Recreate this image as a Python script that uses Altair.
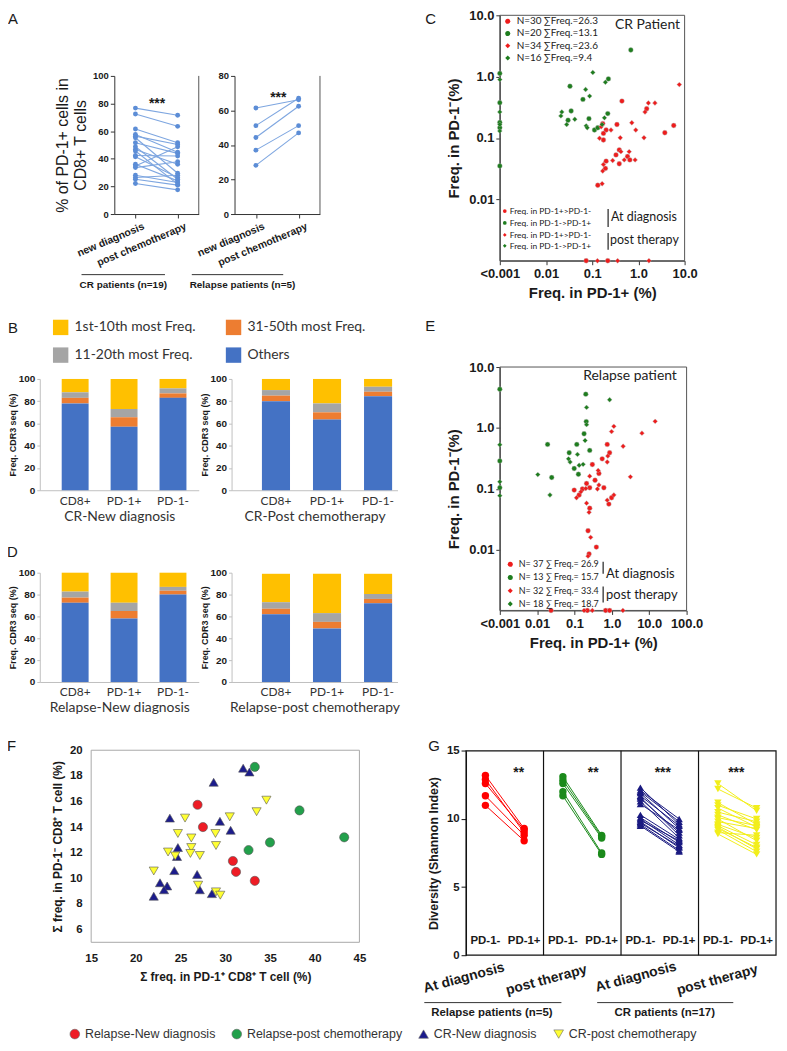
import altair as alt
import pandas as pd

# ======================= DATA =======================
# Panel A : % of PD-1+ cells in CD8+ T cells (paired samples)
a_conditions = ["new diagnosis", "post chemotherapy"]
a_cr_new = [76.7, 72.4, 61.6, 57.6, 56.4, 55.2, 51.6, 48.7, 46.8, 45.6, 42.4, 41.5, 36.0, 34.8, 33.6, 28.1, 26.4, 25.2, 22.1]
a_cr_post = [71.5, 63.5, 51.6, 44.8, 50.4, 29.5, 43.9, 25.2, 36.0, 21.6, 42.0, 26.4, 24.0, 48.7, 37.9, 22.8, 28.1, 20.9, 17.5]
a_rel_new = [61.4, 51.2, 44.3, 37.0, 28.2]
a_rel_post = [66.2, 67.1, 62.4, 51.2, 47.0]

# Panels B / D : stacked CDR3 frequency bars
bar_cells = ["CD8+", "PD-1+", "PD-1-"]
bar_categories = ["1st-10th most Freq.", "11-20th most Freq.", "31-50th most Freq.", "Others"]
bar_stack_rank = [3, 2, 1, 0]
bar_colors = ["#FFC000", "#A5A5A5", "#ED7D31", "#4472C4"]

cr_new_top10 = [12.0, 27.0, 8.5]
cr_new_11_20 = [5.0, 7.5, 4.5]
cr_new_31_50 = [5.0, 8.5, 4.0]
cr_new_others = [78.0, 57.0, 83.0]

cr_post_top10 = [10.0, 22.0, 7.0]
cr_post_11_20 = [5.0, 8.0, 4.5]
cr_post_31_50 = [5.0, 6.5, 4.0]
cr_post_others = [80.0, 63.5, 84.5]

rel_new_top10 = [17.3, 27.5, 13.0]
rel_new_11_20 = [5.5, 7.5, 3.5]
rel_new_31_50 = [4.7, 7.0, 3.5]
rel_new_others = [72.5, 58.0, 80.0]

rel_post_top10 = [26.0, 36.0, 18.5]
rel_post_11_20 = [6.0, 8.0, 4.5]
rel_post_31_50 = [5.0, 6.0, 4.0]
rel_post_others = [62.0, 49.0, 72.0]

# Panel C : CR patient clone frequencies (PD-1+ vs PD-1-)
c_labels = ["N=30 \u2211Freq.=26.3", "N=20 \u2211Freq.=13.1", "N=34 \u2211Freq.=23.6", "N=16 \u2211Freq.=9.4"]
c_red_diag_x = [0.44, 1.51, 0.343, 0.169, 0.20, 0.175, 0.175, 3.73, 5.81, 0.385, 0.327, 0.581, 0.385, 0.20, 0.193, 0.652, 0.132, 0.074, 0.217]
c_red_diag_y = [0.40, 0.30, 0.166, 0.172, 0.135, 0.119, 0.093, 0.122, 0.16, 0.064, 0.053, 0.05, 0.038, 0.042, 0.032, 0.044, 0.017, 0.001, 0.001]
c_green_diag_x = [0.001, 0.001, 0.001, 0.001, 0.001, 0.033, 0.063, 0.224, 0.685, 0.035, 0.030, 0.085, 0.112, 0.132, 0.217]
c_green_diag_y = [1.13, 0.376, 0.179, 0.147, 0.035, 0.698, 0.426, 0.92, 2.72, 0.276, 0.195, 0.207, 0.135, 0.147, 0.25]
c_red_post_x = [7.69, 1.64, 2.28, 1.39, 0.72, 0.877, 0.156, 0.255, 0.144, 0.405, 1.32, 0.418, 0.631, 0.493, 0.277, 0.175, 0.169, 0.848, 0.164, 0.13, 0.355, 1.69]
c_red_post_y = [0.743, 0.372, 0.372, 0.266, 0.177, 0.135, 0.152, 0.135, 0.099, 0.101, 0.101, 0.06, 0.06, 0.044, 0.043, 0.037, 0.029, 0.044, 0.018, 0.001, 0.001, 0.001]
c_green_post_x = [0.001, 0.001, 0.001, 0.001, 0.103, 0.072, 0.088, 0.193, 0.022, 0.021, 0.028, 0.042, 0.074, 0.078, 0.184, 0.164]
c_green_post_y = [0.895, 0.266, 0.166, 0.13, 1.17, 0.617, 0.482, 0.81, 0.266, 0.229, 0.166, 0.202, 0.158, 0.147, 0.213, 0.166]

# Panel E : Relapse patient clone frequencies
e_labels = ["N= 37  \u2211 Freq.= 26.9", "N= 13  \u2211 Freq.= 15.7", "N= 32  \u2211 Freq.= 33.4", "N= 18  \u2211 Freq.= 18.7"]
e_red_diag_x = [0.75, 0.87, 0.55, 0.30, 0.45, 0.354, 0.21, 0.61, 0.255, 0.163, 0.133, 0.098, 0.98, 0.83, 0.255, 0.23, 0.384, 0.245, 0.0235, 0.22, 0.68, 0.87]
e_red_diag_y = [0.535, 0.39, 0.31, 0.25, 0.178, 0.138, 0.122, 0.104, 0.104, 0.099, 0.079, 0.095, 0.071, 0.056, 0.048, 0.0204, 0.011, 0.0085, 0.001, 0.001, 0.001, 0.001]
e_green_diag_x = [0.001, 0.001, 0.001, 0.2, 0.019, 0.0245, 0.072, 0.115, 0.098, 0.127, 0.18, 0.206, 0.255]
e_green_diag_y = [4.32, 0.286, 0.104, 3.58, 0.535, 0.153, 0.39, 0.535, 0.215, 0.173, 0.8, 1.27, 0.427]
e_red_post_x = [14.4, 6.38, 1.13, 0.98, 2.0, 0.78, 0.75, 0.43, 0.255, 3.13, 0.45, 0.41, 0.2, 0.148, 0.113, 1.13, 0.75, 0.21, 0.245, 0.27, 0.23, 0.18, 0.30, 1.97]
e_red_post_y = [1.28, 0.82, 1.06, 0.87, 0.50, 0.345, 0.275, 0.2, 0.161, 0.157, 0.115, 0.099, 0.101, 0.089, 0.071, 0.079, 0.065, 0.058, 0.041, 0.0159, 0.0078, 0.001, 0.001, 0.001]
e_green_post_x = [0.001, 0.001, 0.001, 0.87, 0.21, 0.0104, 0.022, 0.076, 0.069, 0.12, 0.133, 0.17, 0.192, 0.21]
e_green_post_y = [0.528, 0.13, 0.077, 2.9, 2.17, 0.171, 0.079, 0.275, 0.31, 0.367, 0.243, 0.252, 0.62, 1.13]

# Panel F : sum of frequencies
f_groups = ["Relapse-New diagnosis", "Relapse-post chemotherapy", "CR-New diagnosis", "CR-post chemotherapy"]
f_rel_new_x = [26.9, 27.5, 30.85, 31.2, 33.3]
f_rel_new_y = [15.74, 14.0, 11.35, 10.5, 9.8]
f_rel_post_x = [33.3, 38.3, 43.3, 35.0, 32.6]
f_rel_post_y = [18.7, 15.3, 13.2, 12.8, 12.2]
f_cr_new_x = [32.0, 32.7, 28.7, 23.8, 29.4, 30.6, 24.7, 24.6, 24.3, 26.85, 22.7, 23.5, 23.15, 22.0, 27.15, 28.5]
f_cr_new_y = [18.6, 18.3, 17.5, 14.7, 14.45, 13.75, 12.4, 11.7, 10.6, 10.3, 9.65, 9.4, 9.1, 8.6, 9.1, 8.8]
f_cr_post_x = [25.5, 30.5, 34.6, 33.5, 24.7, 26.2, 28.9, 26.2, 23.6, 26.1, 24.4, 27.15, 28.96, 22.0, 26.96, 28.96, 29.44]
f_cr_post_y = [14.7, 14.8, 16.1, 15.2, 13.5, 13.15, 13.5, 12.4, 12.05, 11.94, 11.74, 11.78, 12.56, 10.57, 9.46, 8.94, 8.68]

# Panel G : diversity (Shannon index)
g_status = ["PD-1-", "PD-1+"]
g_rel_new_neg = [13.2, 12.9, 12.6, 11.7, 11.0]
g_rel_new_pos = [9.3, 9.0, 9.2, 8.8, 8.4]
g_rel_post_neg = [13.1, 12.85, 12.6, 12.0, 11.7]
g_rel_post_pos = [8.8, 8.7, 8.6, 7.5, 7.4]
g_cr_new_neg = [12.3, 12.1, 12.0, 11.9, 11.7, 11.6, 11.5, 11.3, 11.1, 10.3, 10.1, 10.0, 9.9, 9.8, 9.7, 9.6, 9.5]
g_cr_new_pos = [9.6, 10.0, 9.8, 9.3, 9.5, 8.8, 9.0, 8.6, 9.2, 8.5, 8.3, 8.1, 8.4, 7.9, 8.0, 7.7, 7.6]
g_cr_post_neg = [12.6, 12.2, 11.2, 11.0, 10.8, 10.5, 10.3, 10.1, 10.0, 9.8, 9.6, 9.5, 9.4, 9.3, 9.2, 9.0, 8.9]
g_cr_post_pos = [10.6, 10.8, 9.6, 10.0, 9.4, 9.8, 9.2, 9.5, 8.4, 9.3, 8.6, 8.1, 7.8, 7.9, 7.6, 8.8, 7.4]

# ======================= LAYOUT HELPERS =======================
OX, OY = 8, 8
W, H = 776, 1036
ARIAL = "Liberation Sans"
LATO = "Lato"
RED, GREEN = "#EE1C1C", "#1E7D1E"
ONE = pd.DataFrame({"k": [0]})


def gx(v):
    return v - OX


def gy(v):
    return v - OY


def loff(xp):
    return -(xp - OX)


def boff(yp):
    return -(H - (yp - OY))


def txt(text, x, y, size=12, weight="normal", font=ARIAL, align="left", color="#1a1a1a", angle=0):
    return alt.Chart(ONE).mark_text(
        align=align, baseline="middle", fontSize=size, font=font, fontWeight=weight, color=color, angle=angle
    ).encode(x=alt.value(gx(x)), y=alt.value(gy(y)), text=alt.value(text))


def hrule(x1, x2, y, color="#333", w=1.0):
    return alt.Chart(ONE).mark_rule(color=color, strokeWidth=w).encode(
        x=alt.value(gx(x1)), x2=alt.value(gx(x2)), y=alt.value(gy(y)))


def vrule(x, y1, y2, color="#333", w=1.0):
    return alt.Chart(ONE).mark_rule(color=color, strokeWidth=w).encode(
        x=alt.value(gx(x)), y=alt.value(gy(y1)), y2=alt.value(gy(y2)))


def box(x1, y1, x2, y2, color="#444", w=1.0):
    return alt.Chart(ONE).mark_rect(fillOpacity=0, stroke=color, strokeWidth=w).encode(
        x=alt.value(gx(x1)), x2=alt.value(gx(x2)), y=alt.value(gy(y1)), y2=alt.value(gy(y2)))


def sym(x, y, shape, color, size=14):
    return alt.Chart(ONE).mark_point(shape=shape, filled=True, color=color, size=size, opacity=1).encode(
        x=alt.value(gx(x)), y=alt.value(gy(y)))


def ax(orient, offset, **kw):
    base = dict(orient=orient, offset=offset, grid=False, labelFont=ARIAL, labelFontWeight="bold",
                labelColor="#1a1a1a", labelFontSize=10, tickColor="#333", domainColor="#333", tickSize=4,
                titleFont=ARIAL, titleFontWeight="bold", titleColor="#1a1a1a", labelFlush=False,
                labelOverlap=False)
    base.update(kw)
    return alt.Axis(**base)


LOGLAB = ("datum.value < 0.002 ? '<0.001' : datum.value < 0.05 ? '0.01' : "
          "datum.value < 0.5 ? '0.1' : format(datum.value, '.1f')")

layers = []

# ======================= PANEL A =======================
APT, ALINE = "#5C8DD6", "#7EA6E0"


def paired(new_vals, post_vals, x0, x1, ymax, yvals, title):
    n = len(new_vals)
    df = pd.DataFrame({"pid": list(range(n)) * 2,
                       "cond": [a_conditions[0]] * n + [a_conditions[1]] * n,
                       "val": list(new_vals) + list(post_vals)})
    x = alt.X("cond:N", sort=a_conditions,
              scale=alt.Scale(type="point", range=[gx(x0), gx(x1)], padding=0.5),
              axis=ax("bottom", boff(212), title=None, labelAngle=-23, labelAlign="right",
                      labelBaseline="top", labelFontSize=10.5, labelPadding=3, labelOffset=6))
    yax = ax("left", loff(x0), values=yvals, labelFontSize=9.5, title=title, titleFontWeight="normal",
             titleFontSize=16, titleLineHeight=18, titlePadding=4) if title else \
        ax("left", loff(x0), values=yvals, labelFontSize=9.5, title=None)
    y = alt.Y("val:Q", scale=alt.Scale(domain=[0, ymax], range=[gy(212), gy(73)], nice=False), axis=yax)
    lines = alt.Chart(df).mark_line(color=ALINE, strokeWidth=1.1).encode(x=x, y=y, detail="pid:N")
    pts = alt.Chart(df).mark_point(filled=True, size=24, opacity=1, color=APT).encode(x=x, y=y)
    return alt.layer(lines, pts)


layers.append(paired(a_cr_new, a_cr_post, 115, 200, 100, [0, 20, 40, 60, 80, 100],
                     ["% of PD-1+ cells in", "CD8+ T cells"]))
layers.append(paired(a_rel_new, a_rel_post, 236, 322, 80, [0, 20, 40, 60, 80], None))
layers += [
    txt("A", 8, 16, 15),
    vrule(200, 73, 212, "#555"), vrule(322, 73, 212, "#555"),
    txt("***", 158, 101, 14, "bold", align="center"),
    txt("***", 280, 95, 14, "bold", align="center"),
    hrule(82, 166, 273, "#333"), hrule(193, 285, 273, "#333"),
    txt("CR patients (n=19)", 124, 283, 10, "bold", align="center"),
    txt("Relapse patients  (n=5)", 244, 283, 10, "bold", align="center"),
]

# ======================= PANELS B / D =======================


def bar_panel(top10, g11, o31, others, x0, x1, y0, y1, align, title, legend):
    rows = []
    for cat, rank, vals in zip(bar_categories, bar_stack_rank, [top10, g11, o31, others]):
        for cell, v in zip(bar_cells, vals):
            rows.append({"cell": cell, "cat": cat, "rank": rank, "val": v})
    df = pd.DataFrame(rows)
    x = alt.X("cell:N", sort=bar_cells,
              scale=alt.Scale(type="band", range=[gx(x0), gx(x1)], paddingInner=0.45, paddingOuter=0.35,
                              align=align),
              axis=ax("bottom", boff(y1), title=title, labelAngle=0, labelFont=LATO, labelFontWeight="normal",
                      labelFontSize=12, labelColor="#333", ticks=False, labelPadding=5, domainColor="#BFBFBF",
                      titleFont=LATO, titleFontWeight="normal", titleFontSize=14, titleColor="#333",
                      titlePadding=3))
    y = alt.Y("val:Q", stack="zero", scale=alt.Scale(domain=[0, 100], range=[gy(y1), gy(y0)], nice=False),
              axis=ax("left", loff(x0), values=[0, 20, 40, 60, 80, 100], title="Freq. CDR3 seq (%)",
                      titleFontSize=9, titlePadding=1, labelFontSize=10, tickSize=3,
                      domainColor="#BFBFBF", tickColor="#BFBFBF"))
    color = alt.Color("cat:N", scale=alt.Scale(domain=bar_categories, range=bar_colors), legend=legend)
    return alt.Chart(df).mark_bar().encode(x=x, y=y, color=color, order=alt.Order("rank:Q", sort="ascending"))


b_legend = alt.Legend(orient="none", legendX=gx(53), legendY=gy(318), title=None, columns=2,
                      symbolType="square", symbolSize=240, symbolStrokeWidth=0, labelFont=LATO,
                      labelFontSize=14, labelColor="#333", labelOffset=6, columnPadding=30, rowPadding=12,
                      padding=0)
layers.append(bar_panel(cr_new_top10, cr_new_11_20, cr_new_31_50, cr_new_others, 40, 200, 378, 490, 0.64,
                        "CR-New diagnosis", b_legend))
layers.append(bar_panel(cr_post_top10, cr_post_11_20, cr_post_31_50, cr_post_others, 233, 400, 378, 490, 0.85,
                        "CR-Post chemotherapy", None))
layers.append(bar_panel(rel_new_top10, rel_new_11_20, rel_new_31_50, rel_new_others, 40, 200, 573, 683, 0.64,
                        "Relapse-New diagnosis", None))
layers.append(bar_panel(rel_post_top10, rel_post_11_20, rel_post_31_50, rel_post_others, 233, 400, 573, 683,
                        0.85, "Relapse-post chemotherapy", None))
layers += [txt("B", 8, 327, 15), txt("D", 7, 552, 15)]

# ======================= PANELS C / E =======================


def log_scatter(labels, series, xmax, xvals, x0, x1, y0, y1, lx, ly, lsize):
    frames = []
    for lab, (xs, ys) in zip(labels, series):
        frames.append(pd.DataFrame({"x": xs, "y": ys, "grp": lab}))
    df = pd.concat(frames, ignore_index=True)
    x = alt.X("x:Q", scale=alt.Scale(type="log", domain=[0.001, xmax], range=[gx(x0), gx(x1)], nice=False),
              axis=ax("bottom", boff(y1), values=xvals, labelExpr=LOGLAB, title="Freq. in PD-1+  (%)",
                      labelFontSize=13, titleFontSize=15, tickSize=4, labelPadding=3, titlePadding=5))
    y = alt.Y("y:Q", scale=alt.Scale(type="log", domain=[0.001, 10], range=[gy(y1), gy(y0)], nice=False),
              axis=ax("left", loff(x0), values=[0.01, 0.1, 1, 10], labelExpr=LOGLAB,
                      title="Freq. in PD-1\u207b(%)", labelFontSize=13, titleFontSize=15, titlePadding=7))
    leg = alt.Legend(orient="none", legendX=gx(lx), legendY=gy(ly), title=None, labelFont=LATO,
                     labelFontSize=lsize, labelColor="#222", symbolSize=26, rowPadding=12.3 - lsize,
                     labelOffset=4, padding=0, symbolStrokeWidth=0)
    color = alt.Color("grp:N", scale=alt.Scale(domain=labels, range=[RED, GREEN, RED, GREEN]), legend=leg)
    shape = alt.Shape("grp:N", scale=alt.Scale(domain=labels, range=["circle", "circle", "diamond", "diamond"]),
                      legend=leg)
    return alt.Chart(df).mark_point(filled=True, size=24, opacity=1, stroke="#bbbbbb", strokeWidth=0.4).encode(
        x=x, y=y, color=color, shape=shape)


layers.append(box(503, 12, 689, 259, "#555"))
layers.append(log_scatter(c_labels, [(c_red_diag_x, c_red_diag_y), (c_green_diag_x, c_green_diag_y),
                                     (c_red_post_x, c_red_post_y), (c_green_post_x, c_green_post_y)],
                          10, [0.001, 0.01, 0.1, 1, 10], 503, 689, 12, 259, 506, 13, 10))
layers += [
    txt("C", 428, 16, 15),
    txt("CR Patient", 619, 22, 14, font=LATO, color="#222"),
    sym(508, 209, "circle", RED), sym(508, 221, "circle", GREEN),
    sym(508, 233, "diamond", RED), sym(508, 244, "diamond", GREEN),
    txt("Freq. in PD-1+>PD-1-", 513, 209, 8.5, font=LATO),
    txt("Freq. in PD-1->PD-1+", 513, 221, 8.5, font=LATO),
    txt("Freq. in PD-1+>PD-1-", 513, 233, 8.5, font=LATO),
    txt("Freq. in PD-1->PD-1+", 513, 244, 8.5, font=LATO),
    vrule(612, 207, 225, "#222", 1.2), vrule(612, 231, 248, "#222", 1.2),
    txt("At diagnosis", 615, 215, 12.5, font=LATO),
    txt("post therapy", 614, 238, 12.5, font=LATO),
]

layers.append(box(503, 366, 691, 611, "#555"))
layers.append(log_scatter(e_labels, [(e_red_diag_x, e_red_diag_y), (e_green_diag_x, e_green_diag_y),
                                     (e_red_post_x, e_red_post_y), (e_green_post_x, e_green_post_y)],
                          100, [0.001, 0.01, 0.1, 1, 10, 100], 503, 691, 366, 611, 509, 560, 9))
layers += [
    txt("E", 428, 325, 15),
    txt("Relapse patient", 587, 375, 14, font=LATO, color="#222"),
    vrule(607, 562, 574, "#222", 1.2), vrule(607, 587, 603, "#222", 1.2),
    txt("At diagnosis", 610, 574, 13, font=LATO),
    txt("post therapy", 610, 595, 13, font=LATO),
]

# ======================= PANEL F =======================
f_frames = []
for grp, xs, ys in zip(f_groups, [f_rel_new_x, f_rel_post_x, f_cr_new_x, f_cr_post_x],
                       [f_rel_new_y, f_rel_post_y, f_cr_new_y, f_cr_post_y]):
    f_frames.append(pd.DataFrame({"x": xs, "y": ys, "grp": grp}))
f_df = pd.concat(f_frames, ignore_index=True)
f_leg = alt.Legend(orient="none", legendX=gx(69), legendY=gy(1031), direction="horizontal", title=None,
                   labelFont=ARIAL, labelFontSize=12.5, labelColor="#333", symbolSize=95, labelOffset=4,
                   columnPadding=15, padding=0, symbolStrokeColor="#666", symbolStrokeWidth=0.6)
f_chart = alt.Chart(f_df).mark_point(filled=True, size=85, opacity=1, stroke="#555", strokeWidth=0.6).encode(
    x=alt.X("x:Q", scale=alt.Scale(domain=[15, 45], range=[gx(91.7), gx(361.7)], nice=False, zero=False),
            axis=ax("bottom", boff(945), values=[15, 20, 25, 30, 35, 40, 45],
                    title="\u03a3 freq. in PD-1\u207a CD8\u207a T cell (%)", labelFontSize=11.5, titleFontSize=12,
                    ticks=False, domain=False, labelPadding=10, titlePadding=8)),
    y=alt.Y("y:Q", scale=alt.Scale(domain=[5, 20], range=[gy(945), gy(751.7)], nice=False, zero=False),
            axis=ax("left", loff(91.7), values=[6, 8, 10, 12, 14, 16, 18, 20],
                    title="\u03a3 freq. in PD-1\u207b CD8\u207a T cell (%)", labelFontSize=11.5, titleFontSize=12,
                    ticks=False, domain=False, labelPadding=9, titlePadding=5)),
    color=alt.Color("grp:N", scale=alt.Scale(domain=f_groups, range=["#EE1C25", "#22A04B", "#1C1C8C", "#FFFF33"]),
                    legend=f_leg),
    shape=alt.Shape("grp:N", scale=alt.Scale(domain=f_groups,
                                             range=["circle", "circle", "triangle-up", "triangle-down"]),
                    legend=f_leg),
)
layers += [box(91.7, 751.7, 361.7, 945, "#A8A8A8"), f_chart, txt("F", 7, 747, 15)]

# ======================= PANEL G =======================
g_groups = f_groups
g_slots = [f"{i}|{s}" for i in range(4) for s in g_status]
g_rows = []
for gi, (neg, pos) in enumerate([(g_rel_new_neg, g_rel_new_pos), (g_rel_post_neg, g_rel_post_pos),
                                 (g_cr_new_neg, g_cr_new_pos), (g_cr_post_neg, g_cr_post_pos)]):
    for pi, (a, b) in enumerate(zip(neg, pos)):
        g_rows.append({"grp": g_groups[gi], "pid": f"{gi}-{pi}", "slot": f"{gi}|PD-1-", "val": a})
        g_rows.append({"grp": g_groups[gi], "pid": f"{gi}-{pi}", "slot": f"{gi}|PD-1+", "val": b})
g_df = pd.DataFrame(g_rows)
g_lab = pd.DataFrame({"slot": g_slots, "t": [s.split("|")[1] for s in g_slots]})

gX = alt.X("slot:N", sort=g_slots, scale=alt.Scale(type="point", range=[gx(469), gx(781)], padding=0.5), axis=None)
gY = alt.Y("val:Q", scale=alt.Scale(domain=[0, 15], range=[gy(958), gy(752.3)], nice=False),
           axis=ax("left", loff(469), values=[0, 5, 10, 15], title="Diversity (Shannon Index)",
                   labelFontSize=11.5, titleFontSize=12.5, tickSize=5, titlePadding=6,
                   domainColor="#111", tickColor="#111"))
gC = alt.Color("grp:N", scale=alt.Scale(domain=g_groups, range=["#FF0000", "#1B8A1B", "#1A1A80", "#F2EE1A"]),
               legend=None)
gS = alt.Shape("grp:N", scale=alt.Scale(domain=g_groups, range=["circle", "circle", "triangle-up", "triangle-down"]),
               legend=None)
g_chart = alt.layer(
    alt.Chart(g_df).mark_line(strokeWidth=1).encode(x=gX, y=gY, color=gC, detail="pid:N"),
    alt.Chart(g_df).mark_point(filled=True, size=55, opacity=1).encode(x=gX, y=gY, color=gC, shape=gS),
    alt.Chart(g_lab).mark_text(font=ARIAL, fontWeight="bold", fontSize=11.5, color="#1a1a1a").encode(
        x=gX, y=alt.value(gy(944)), text="t:N"),
)
layers += [
    g_chart,
    box(469, 752.3, 781, 958, "#111", 1.2),
    vrule(547, 752.3, 958, "#111", 1.2), vrule(625, 752.3, 958, "#111", 1.2), vrule(703, 752.3, 958, "#111", 1.2),
    txt("G", 431, 747, 15),
    txt("**", 522, 775, 14, "bold", align="center"),
    txt("**", 597, 775, 14, "bold", align="center"),
    txt("***", 667, 775, 14, "bold", align="center"),
    txt("***", 741, 775, 14, "bold", align="center"),
    txt("At diagnosis", 467, 981, 14, "bold", align="center", angle=345),
    txt("post therapy", 550, 983, 14, "bold", align="center", angle=345),
    txt("At diagnosis", 640, 980, 14, "bold", align="center", angle=345),
    txt("post therapy", 722, 983, 14, "bold", align="center", angle=345),
    hrule(427, 565, 1005.7, "#333"), hrule(601, 738, 1005.7, "#333"),
    txt("Relapse patients (n=5)", 495, 1016, 11.5, "bold", align="center"),
    txt("CR patients  (n=17)", 669, 1016, 11.5, "bold", align="center"),
]

chart = (
    alt.layer(*layers)
    .resolve_scale(x="independent", y="independent", color="independent", shape="independent")
    .resolve_axis(x="independent", y="independent")
    .resolve_legend(color="independent", shape="independent")
    .properties(width=W, height=H, padding=0, autosize=alt.AutoSizeParams(type="none"), background="white")
    .configure_view(strokeWidth=0)
)

chart.save("out.html", embed_options={"renderer": "svg", "actions": False})
